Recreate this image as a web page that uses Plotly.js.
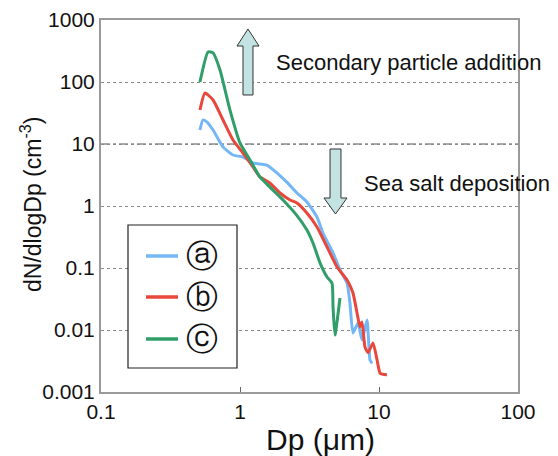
<!DOCTYPE html>
<html>
<head>
<meta charset="utf-8">
<script src="https://cdn.plot.ly/plotly-3.0.1.min.js"></script>
<style>html,body{margin:0;padding:0;background:#fff;}</style>
</head>
<body>
<div id="chart" style="width:558px;height:456px;"></div>
<script>
// ---- data ----
const seriesNames = ['ⓐ', 'ⓑ', 'ⓒ'];
const seriesColors = ['#74b6f6', '#e8473c', '#2f9e68'];

const Dp_a = [0.515, 0.542, 0.579, 0.640, 0.755, 0.891, 1.05, 1.24, 1.56, 1.85, 2.18, 2.57, 3.03, 3.58, 3.95, 4.67, 5.24, 5.89, 6.18, 6.50, 7.06, 7.55, 8.20, 8.61, 8.91];
const N_a  = [16.8, 24.4, 22.6, 16.8, 8.95, 6.65, 6.17, 4.94, 4.58, 3.40, 2.40, 1.62, 1.16, 0.665, 0.367, 0.175, 0.093, 0.0573, 0.0272, 0.00895, 0.0130, 0.0069, 0.0145, 0.0033, 0.0029];

const Dp_b = [0.515, 0.560, 0.640, 0.755, 0.891, 1.05, 1.24, 1.39, 1.64, 1.94, 2.29, 2.57, 3.03, 3.58, 4.23, 4.99, 5.89, 6.50, 6.95, 7.30, 7.55, 7.93, 8.34, 9.06, 9.68, 10.2, 11.4];
const N_b  = [35.3, 66.5, 51.3, 24.4, 11.6, 7.16, 4.26, 2.94, 2.35, 1.62, 1.25, 1.12, 0.771, 0.458, 0.218, 0.104, 0.064, 0.0395, 0.0188, 0.0112, 0.0135, 0.0053, 0.0043, 0.0062, 0.0033, 0.0020, 0.0019];

const Dp_c = [0.515, 0.589, 0.640, 0.718, 0.847, 1.0, 1.18, 1.39, 1.64, 2.04, 2.57, 3.03, 3.35, 3.77, 4.23, 4.59, 4.67, 4.82, 5.24];
const N_c  = [100, 305, 294, 156, 35.3, 10.4, 5.52, 2.94, 2.02, 1.25, 0.70, 0.410, 0.253, 0.120, 0.0716, 0.0573, 0.0235, 0.0083, 0.0328];

const xTickVals = [0.1, 1, 10, 100];
const xTickText = ['0.1', '1', '10', '100'];
const yTickVals = [0.001, 0.01, 0.1, 1, 10, 100, 1000];
const yTickText = ['0.001', '0.01', '0.1', '1', '10', '100', '1000'];

const xTitle = 'Dp (μm)';
const yTitle = 'dN/dlogDp (cm<sup>-3</sup>)';

// ---- helpers for decoration placement (pixel -> paper) ----
const L = 101, R = 518, T = 20, B = 392;
const px = v => (v - L) / (R - L);
const py = v => (B - v) / (B - T);
function path(pts) {
  return 'M ' + pts.map(p => px(p[0]).toFixed(4) + ',' + py(p[1]).toFixed(4)).join(' L ') + ' Z';
}

const font = 'Liberation Sans, Arial, sans-serif';

const traces = [[Dp_a, N_a], [Dp_b, N_b], [Dp_c, N_c]].map((d, i) => ({
  x: d[0], y: d[1], type: 'scatter', mode: 'lines',
  name: seriesNames[i], showlegend: false,
  line: {color: seriesColors[i], width: 3, shape: 'spline', smoothing: 0.5}
}));

const shapes = [
  // dash-dot gridline at 10
  {type: 'line', xref: 'paper', yref: 'y', x0: 0, x1: 1, y0: 10, y1: 10,
   line: {color: '#555', width: 1, dash: 'dashdot'}, layer: 'below'},
  // up arrow
  {type: 'path', xref: 'paper', yref: 'paper',
   path: path([[248, 29], [259, 46], [253, 46], [253, 95], [243, 95], [243, 46], [237, 46]]),
   fillcolor: '#c3e2e2', line: {color: '#333', width: 1}},
  // down arrow
  {type: 'path', xref: 'paper', yref: 'paper',
   path: path([[335.5, 214], [347, 198], [341, 198], [341, 149], [330, 149], [330, 198], [324, 198]]),
   fillcolor: '#c3e2e2', line: {color: '#333', width: 1}},
  // legend box
  {type: 'rect', xref: 'paper', yref: 'paper', x0: px(128), x1: px(237), y0: py(368), y1: py(225),
   fillcolor: '#fff', line: {color: '#222', width: 1.2}}
];

const legendY = [256, 297, 339];
const annotations = [
  {xref: 'paper', yref: 'paper', x: px(274), y: py(62), xanchor: 'left', yanchor: 'middle',
   text: 'Secondary particle addition', showarrow: false, font: {family: font, size: 22, color: '#111'}},
  {xref: 'paper', yref: 'paper', x: px(362), y: py(183), xanchor: 'left', yanchor: 'middle',
   text: 'Sea salt deposition', showarrow: false, font: {family: font, size: 22, color: '#111'}},
  {xref: 'paper', yref: 'paper', x: px(320), y: py(440), xanchor: 'center', yanchor: 'middle',
   text: xTitle, showarrow: false, font: {family: font, size: 30, color: '#111'}},
  {xref: 'paper', yref: 'paper', x: px(31), y: py(205), xanchor: 'center', yanchor: 'middle',
   text: yTitle, textangle: -90, showarrow: false, font: {family: font, size: 23, color: '#111'}}
];
legendY.forEach((yy, i) => {
  shapes.push({type: 'line', xref: 'paper', yref: 'paper', x0: px(146), x1: px(178), y0: py(yy), y1: py(yy),
    line: {color: seriesColors[i], width: 3.5}});
  annotations.push({xref: 'paper', yref: 'paper', x: px(202), y: py(yy), xanchor: 'center', yanchor: 'middle',
    text: seriesNames[i], showarrow: false, font: {family: 'DejaVu Sans, sans-serif', size: 32, color: '#111'}});
});

const layout = {
  width: 558, height: 456,
  margin: {l: L, r: 558 - R, t: T, b: 456 - B},
  paper_bgcolor: '#fff', plot_bgcolor: '#fff',
  showlegend: false,
  font: {family: font, color: '#111'},
  xaxis: {
    type: 'log', range: [-1, 2], tickvals: xTickVals, ticktext: xTickText,
    showline: true, mirror: true, linecolor: '#9a9a9a', linewidth: 2,
    ticks: 'inside', ticklen: 5, tickcolor: '#666', tickwidth: 1,
    showgrid: false, zeroline: false,
    tickfont: {family: font, size: 21, color: '#111'},
    automargin: false
  },
  yaxis: {
    type: 'log', range: [-3, 3], tickvals: yTickVals, ticktext: yTickText,
    showline: true, mirror: true, linecolor: '#9a9a9a', linewidth: 2,
    ticks: '', showgrid: true, gridcolor: '#8a8a8a', griddash: 'dot', gridwidth: 1,
    zeroline: false,
    tickfont: {family: font, size: 21, color: '#111'},
    automargin: false
  },
  shapes: shapes,
  annotations: annotations
};

Plotly.newPlot('chart', traces, layout, {displayModeBar: false, staticPlot: true});
</script>
</body>
</html>
